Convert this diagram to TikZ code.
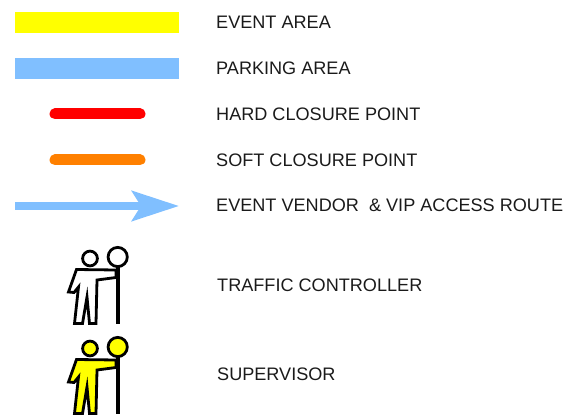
\documentclass[tikz,border=0pt]{standalone}
\usepackage{fontspec}
\setmainfont{Liberation Sans}
\usepackage{tikz}
\usetikzlibrary{positioning}
\usetikzlibrary{arrows.meta}
\definecolor{eventyellow}{HTML}{FFFF00}
\definecolor{parkblue}{HTML}{80BFFF}
\definecolor{closered}{HTML}{FF0000}
\definecolor{closeorange}{HTML}{FF8000}
\definecolor{labelgrey}{HTML}{1A1A1A}

\begin{document}
\begin{tikzpicture}[
  x=1pt, y=-1pt,
  swatch/.style={minimum width=164pt,minimum height=21pt,inner sep=0pt,outer sep=0pt},
  legendtext/.style={anchor=west,inner sep=0pt,text=labelgrey,font=\fontsize{18.1pt}{20pt}\selectfont},
  closure/.style={line width=11pt,line cap=round},
  person/.pic={
    \draw[line width=4pt] (118,265) -- (118,324);
    \draw[line width=2.8pt,fill=#1,line join=miter]
      (76.5,269.5) -- (116,270) -- (116,277.5) -- (97,280) -- (96,323.5) -- (89.5,323.5)
      -- (87,297) -- (82.5,323.5) -- (74.5,323.5) -- (78.5,287) -- (74,292.5) -- (68.5,292) -- cycle;
    \draw[line width=2.8pt,fill=#1] (90,258.5) circle (7.4);
    \draw[line width=2.8pt,fill=#1] (117.7,257) circle (9.6);
  }
]
  \useasboundingbox (0,0) rectangle (566,417);

  \node[swatch,fill=eventyellow] (event) at (97,22.5) {};
  \node[swatch,fill=parkblue] (park) at (97,68.5) {};

  \coordinate (hardl) at (55,114);
  \coordinate (hardr) at (140,114);
  \draw[closure,closered] (hardl) -- (hardr);
  \coordinate (softl) at (55,160);
  \coordinate (softr) at (140,160);
  \draw[closure,closeorange] (softl) -- (softr);

  \coordinate (routel) at (15,206);
  \coordinate (router) at (179,206);
  \draw[line width=7.5pt,parkblue,-{Stealth[length=47pt,width=30pt,inset=9pt]}] (routel) -- (router);

  \pic {person=white};
  \pic[yshift=-90pt] {person=eventyellow};

  \node[legendtext] (tevent) at (216,22) {EVENT AREA};
  \node[legendtext] (tpark) at (216,68) {PARKING AREA};
  \node[legendtext] (thard) at (216,114) {HARD CLOSURE POINT};
  \node[legendtext] (tsoft) at (216,160) {SOFT CLOSURE POINT};
  \node[legendtext] (troute) at (216,205) {EVENT VENDOR\ \ \& VIP ACCESS ROUTE};
  \node[legendtext] (ttraffic) at (217,285) {TRAFFIC CONTROLLER};
  \node[legendtext] (tsuper) at (217,374) {SUPERVISOR};
\end{tikzpicture}
\end{document}
